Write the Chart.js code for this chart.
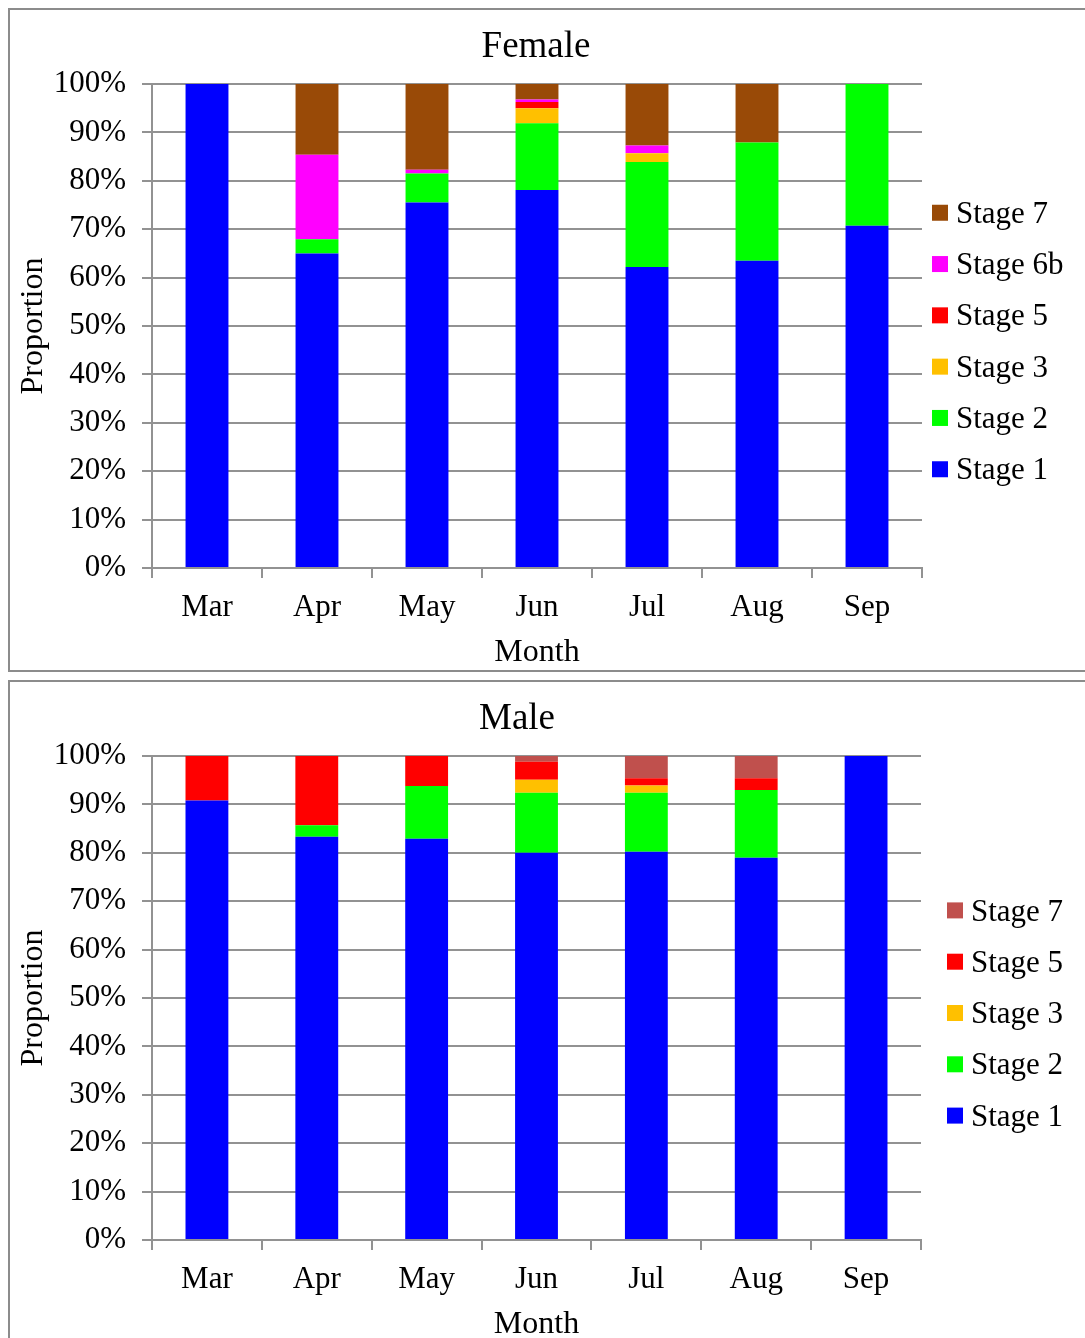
<!DOCTYPE html>
<html>
<head>
<meta charset="utf-8">
<script src="https://cdn.jsdelivr.net/npm/chart.js@4.4.1/dist/chart.umd.min.js"></script>
<style>
  html, body { margin: 0; padding: 0; background: #fff; overflow: hidden; width: 1085px; height: 1338px; }
  .panel { position: absolute; left: 8px; border: 2px solid #8c8c8c; background: #fff; width: 1100px; height: 660px; }
  #femalePanel { top: 8px; }
  #malePanel { top: 680px; }
  canvas { position: absolute; left: 0; top: 0; }
</style>
</head>
<body>
<div class="panel" id="femalePanel"><canvas id="female" width="1075" height="660"></canvas></div>
<div class="panel" id="malePanel"><canvas id="male" width="1075" height="660"></canvas></div>
<script>
// Months sampled
const months = ['Mar', 'Apr', 'May', 'Jun', 'Jul', 'Aug', 'Sep'];

// Female maturity stage proportions (%)
const femaleStage1  = [100, 65.0, 75.5, 78.1, 62.2, 63.5, 70.7];
const femaleStage2  = [0, 2.9, 6.0, 13.8, 21.7, 24.4, 29.3];
const femaleStage3  = [0, 0, 0, 3.1, 1.8, 0, 0];
const femaleStage5  = [0, 0, 0, 1.3, 0, 0, 0];
const femaleStage6b = [0, 17.5, 0.8, 0.5, 1.6, 0, 0];
const femaleStage7  = [0, 14.6, 17.7, 3.2, 12.7, 12.1, 0];

// Male maturity stage proportions (%)
const maleStage1 = [90.8, 83.3, 82.9, 80.0, 80.2, 79.0, 100];
const maleStage2 = [0, 2.4, 10.9, 12.4, 12.2, 14.0, 0];
const maleStage3 = [0, 0, 0, 2.7, 1.5, 0, 0];
const maleStage5 = [9.2, 14.3, 6.2, 3.7, 1.5, 2.4, 0];
const maleStage7 = [0, 0, 0, 1.2, 4.6, 4.6, 0];

// Y axis tick values
const yTicks = [0, 10, 20, 30, 40, 50, 60, 70, 80, 90, 100];

const SERIF = '"Liberation Serif", "Times New Roman", serif';
const GRID = '#929292';

// Draws the panel title and a right-hand legend (top entry = last dataset)
const panelDecor = {
  id: 'panelDecor',
  afterDraw(chart, args, opts) {
    const ctx = chart.ctx;
    const area = chart.chartArea;
    ctx.save();
    ctx.fillStyle = '#000';
    ctx.font = '37px ' + SERIF;
    ctx.textAlign = 'center';
    ctx.textBaseline = 'middle';
    ctx.fillText(opts.title, opts.titleX, opts.titleY);

    const sets = chart.data.datasets.slice().reverse();
    const step = 51.3;
    const midY = (area.top + area.bottom) / 2 + 15;
    ctx.font = '31px ' + SERIF;
    ctx.textAlign = 'left';
    sets.forEach((ds, i) => {
      const cy = midY + (i - (sets.length - 1) / 2) * step;
      ctx.fillStyle = ds.backgroundColor;
      ctx.fillRect(opts.legendX, cy - 8, 16, 16);
      ctx.fillStyle = '#000';
      ctx.fillText(ds.label, opts.legendX + 24, cy + 2);
    });
    ctx.restore();
  }
};

function makeChart(id, datasets, title, titleX, legendX, rightPad) {
  return new Chart(document.getElementById(id), {
    type: 'bar',
    data: { labels: months, datasets },
    plugins: [panelDecor],
    options: {
      responsive: false,
      animation: false,
      devicePixelRatio: 1,
      layout: { padding: { top: 74, right: rightPad, bottom: 0, left: 0 } },
      datasets: { bar: { categoryPercentage: 1.0, barPercentage: 0.39, borderWidth: 0 } },
      plugins: {
        legend: { display: false },
        title: { display: false },
        tooltip: { enabled: false },
        panelDecor: { title, titleX, titleY: 37, legendX }
      },
      scales: {
        x: {
          stacked: true,
          afterFit: (s) => { s.height = 102; },
          grid: { drawOnChartArea: false, drawTicks: true, tickLength: 10, color: GRID, lineWidth: 2 },
          border: { color: GRID, width: 2 },
          ticks: { color: '#000', font: { family: SERIF, size: 31 }, padding: 11 },
          title: { display: true, text: 'Month', color: '#000', font: { family: SERIF, size: 32, lineHeight: 1.0 }, padding: { top: 0, bottom: 1 } }
        },
        y: {
          stacked: true,
          min: 0,
          max: 100,
          afterFit: (s) => { s.width = 142; },
          afterBuildTicks: (s) => { s.ticks = yTicks.map(v => ({ value: v })); },
          grid: { color: GRID, lineWidth: 2, tickLength: 10 },
          border: { color: GRID, width: 2 },
          ticks: { color: '#000', font: { family: SERIF, size: 31 }, padding: 16, callback: (v) => v + '%' },
          title: { display: true, text: 'Proportion', color: '#000', font: { family: SERIF, size: 32 }, padding: { top: 4, bottom: 0 } }
        }
      }
    }
  });
}

makeChart('female', [
  { label: 'Stage 1',  data: femaleStage1,  backgroundColor: '#0000FF' },
  { label: 'Stage 2',  data: femaleStage2,  backgroundColor: '#00FF00' },
  { label: 'Stage 3',  data: femaleStage3,  backgroundColor: '#FFC000' },
  { label: 'Stage 5',  data: femaleStage5,  backgroundColor: '#FF0000' },
  { label: 'Stage 6b', data: femaleStage6b, backgroundColor: '#FF00FF' },
  { label: 'Stage 7',  data: femaleStage7,  backgroundColor: '#994A07' }
], 'Female', 526, 922, 163);

makeChart('male', [
  { label: 'Stage 1', data: maleStage1, backgroundColor: '#0000FF' },
  { label: 'Stage 2', data: maleStage2, backgroundColor: '#00FF00' },
  { label: 'Stage 3', data: maleStage3, backgroundColor: '#FFC000' },
  { label: 'Stage 5', data: maleStage5, backgroundColor: '#FF0000' },
  { label: 'Stage 7', data: maleStage7, backgroundColor: '#C0504D' }
], 'Male', 507, 937, 164);
</script>
</body>
</html>
